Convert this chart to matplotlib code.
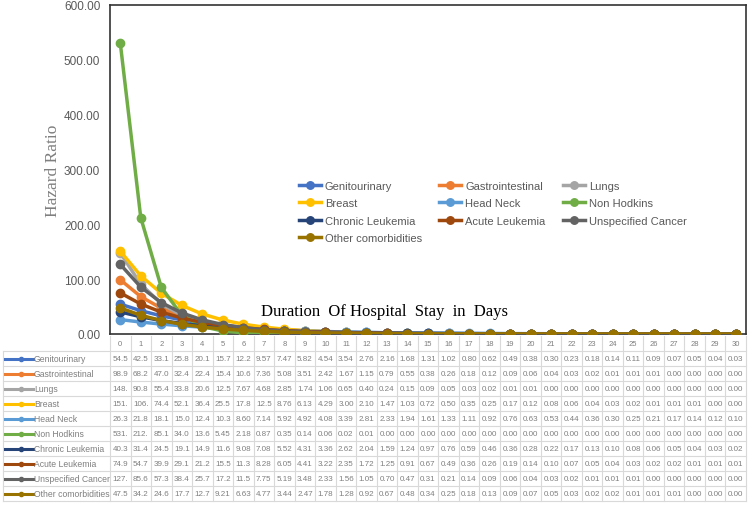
import numpy as np
import matplotlib
matplotlib.use('Agg')
import matplotlib.pyplot as plt

# giorni di degenza
days = list(range(31))

genitourinary = [54.5, 42.5, 33.1, 25.8, 20.1, 15.7, 12.2, 9.57, 7.47, 5.82, 4.54, 3.54, 2.76, 2.16, 1.68, 1.31,
                 1.02, 0.80, 0.62, 0.49, 0.38, 0.30, 0.23, 0.18, 0.14, 0.11, 0.09, 0.07, 0.05, 0.04, 0.03]
gastrointestinal = [98.9, 68.2, 47.0, 32.4, 22.4, 15.4, 10.6, 7.36, 5.08, 3.51, 2.42, 1.67, 1.15, 0.79, 0.55, 0.38,
                    0.26, 0.18, 0.12, 0.09, 0.06, 0.04, 0.03, 0.02, 0.01, 0.01, 0.01, 0.00, 0.00, 0.00, 0.00]
lungs = [148.0, 90.8, 55.4, 33.8, 20.6, 12.5, 7.67, 4.68, 2.85, 1.74, 1.06, 0.65, 0.40, 0.24, 0.15, 0.09,
         0.05, 0.03, 0.02, 0.01, 0.01, 0.00, 0.00, 0.00, 0.00, 0.00, 0.00, 0.00, 0.00, 0.00, 0.00]
breast = [151.0, 106.0, 74.4, 52.1, 36.4, 25.5, 17.8, 12.5, 8.76, 6.13, 4.29, 3.00, 2.10, 1.47, 1.03, 0.72,
          0.50, 0.35, 0.25, 0.17, 0.12, 0.08, 0.06, 0.04, 0.03, 0.02, 0.01, 0.01, 0.01, 0.00, 0.00]
head_neck = [26.3, 21.8, 18.1, 15.0, 12.4, 10.3, 8.60, 7.14, 5.92, 4.92, 4.08, 3.39, 2.81, 2.33, 1.94, 1.61,
             1.33, 1.11, 0.92, 0.76, 0.63, 0.53, 0.44, 0.36, 0.30, 0.25, 0.21, 0.17, 0.14, 0.12, 0.10]
non_hodkins = [531.0, 212.0, 85.1, 34.0, 13.6, 5.45, 2.18, 0.87, 0.35, 0.14, 0.06, 0.02, 0.01, 0.00, 0.00, 0.00,
               0.00, 0.00, 0.00, 0.00, 0.00, 0.00, 0.00, 0.00, 0.00, 0.00, 0.00, 0.00, 0.00, 0.00, 0.00]
chronic_leuk = [40.3, 31.4, 24.5, 19.1, 14.9, 11.6, 9.08, 7.08, 5.52, 4.31, 3.36, 2.62, 2.04, 1.59, 1.24, 0.97,
                0.76, 0.59, 0.46, 0.36, 0.28, 0.22, 0.17, 0.13, 0.10, 0.08, 0.06, 0.05, 0.04, 0.03, 0.02]
acute_leuk = [74.9, 54.7, 39.9, 29.1, 21.2, 15.5, 11.3, 8.28, 6.05, 4.41, 3.22, 2.35, 1.72, 1.25, 0.91, 0.67,
              0.49, 0.36, 0.26, 0.19, 0.14, 0.10, 0.07, 0.05, 0.04, 0.03, 0.02, 0.02, 0.01, 0.01, 0.01]
unspecified = [127.0, 85.6, 57.3, 38.4, 25.7, 17.2, 11.5, 7.75, 5.19, 3.48, 2.33, 1.56, 1.05, 0.70, 0.47, 0.31,
               0.21, 0.14, 0.09, 0.06, 0.04, 0.03, 0.02, 0.01, 0.01, 0.01, 0.00, 0.00, 0.00, 0.00, 0.00]
other_comorb = [47.5, 34.2, 24.6, 17.7, 12.7, 9.21, 6.63, 4.77, 3.44, 2.47, 1.78, 1.28, 0.92, 0.67, 0.48, 0.34,
                0.25, 0.18, 0.13, 0.09, 0.07, 0.05, 0.03, 0.02, 0.02, 0.01, 0.01, 0.01, 0.00, 0.00, 0.00]

names = ['Genitourinary', 'Gastrointestinal', 'Lungs', 'Breast', 'Head Neck', 'Non Hodkins',
         'Chronic Leukemia', 'Acute Leukemia', 'Unspecified Cancer', 'Other comorbidities']
series = [genitourinary, gastrointestinal, lungs, breast, head_neck, non_hodkins,
          chronic_leuk, acute_leuk, unspecified, other_comorb]
colori = ['#4472C4', '#ED7D31', '#A5A5A5', '#FFC000', '#5B9BD5', '#70AD47',
          '#264478', '#9E480E', '#636363', '#997300']

W, H = 749, 506
fig = plt.figure(figsize=(W / 100, H / 100), dpi=100)

# area del grafico (in pixel)
L, R, T, B = 110, 746, 6, 335
ax = fig.add_axes([L / W, 1 - B / H, (R - L) / W, (B - T) / H])

linee = []
for nome, y, c in zip(names, series, colori):
    ln, = ax.plot(days, y, color=c, lw=2.5, marker='o', ms=6, label=nome, zorder=3)
    linee.append(ln)

ax.set_xlim(-0.5, 30.5)
ax.set_ylim(0, 600)
ax.set_yticks(np.arange(0, 601, 100))
ax.set_yticklabels(['%.2f' % v for v in np.arange(0, 601, 100)], color='#595959', fontsize=8.5,
                   family='Liberation Sans')
ax.tick_params(axis='y', length=0, pad=7)
ax.set_xticks([])
for s in ax.spines.values():
    s.set_color('#333333')
    s.set_linewidth(1.2)
ax.set_ylabel('Hazard Ratio', family='Liberation Serif', fontsize=12.5, color='#7F7F7F', labelpad=2)

ax.text(0.432, 0.07, 'Duration  Of Hospital  Stay  in  Days', transform=ax.transAxes,
        ha='center', va='center', family='Liberation Serif', fontsize=12)

# legenda 3 colonne, ordine per righe
ordine = [0, 3, 6, 9, 1, 4, 7, 2, 5, 8]
ax.legend([linee[i] for i in ordine], [names[i] for i in ordine], ncol=3, frameon=False,
          loc='upper left', bbox_to_anchor=(0.281, 0.495),
          prop={'family': 'Liberation Sans', 'size': 8}, labelcolor='#595959',
          handlelength=2.0, handletextpad=0.35, columnspacing=1.55, labelspacing=0.65, markerscale=0.9)

# tabella dati sotto il grafico
T2, B2 = 337, 502
tab = fig.add_axes([L / W, 1 - B2 / H, (R - L) / W, (B2 - T2) / H])
tab.set_xlim(-0.5, 30.5)
tab.set_ylim(11, 0)
tab.axis('off')
cw = (R - L) / 31.0
xl = -0.5 - (L - 3) / cw
grid = '#D9D9D9'
for r in range(1, 12):
    tab.plot([xl, 30.5], [r, r], color=grid, lw=0.8, clip_on=False)
tab.plot([xl, xl], [1, 11], color=grid, lw=0.8, clip_on=False)
for k in range(32):
    tab.plot([k - 0.5, k - 0.5], [0, 11], color=grid, lw=0.8, clip_on=False)
for d in days:
    tab.text(d, 0.5, str(d), ha='center', va='center', fontsize=5.5, color='#7F7F7F',
             family='Liberation Sans')
for r, (nome, y, c) in enumerate(zip(names, series, colori), start=1):
    tab.plot([xl + 0.1, xl + 1.45], [r + 0.5, r + 0.5], color=c, lw=2.2, clip_on=False)
    tab.plot([xl + 0.9], [r + 0.5], color=c, marker='o', ms=3, clip_on=False)
    tab.text(xl + 1.5, r + 0.5, nome, ha='left', va='center', fontsize=6.2, color='#7F7F7F',
             family='Liberation Sans')
    for d, v in zip(days, y):
        tab.text(d, r + 0.5, ('%.2f' % v)[:4], ha='center', va='center', fontsize=5.8,
                 color='#7F7F7F', family='Liberation Sans')

fig.savefig('out.png', dpi=100)
